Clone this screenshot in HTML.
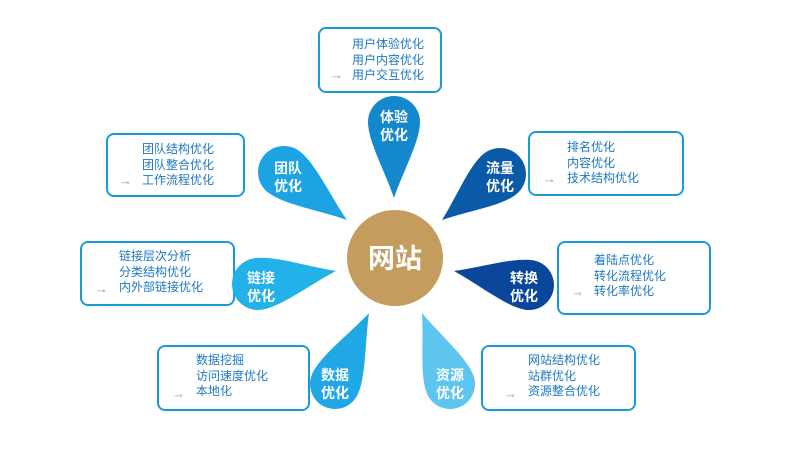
<!DOCTYPE html>
<html><head><meta charset="utf-8"><style>
body{margin:0;width:793px;height:472px;background:#fff;position:relative;overflow:hidden;font-family:"Liberation Sans","Noto Sans CJK SC",sans-serif}
.box{position:absolute;border:2px solid #1c9ad8;border-radius:8px;box-sizing:border-box;background:#fff}
.t{position:absolute;color:#1d78c0;font-size:12px;line-height:15.5px;white-space:nowrap}
.ar{position:absolute;color:#c49a5c;font-size:13px}
.lb{position:absolute;color:#fff;font-weight:bold;font-size:14px;line-height:18px;text-align:center;width:40px}
svg{position:absolute;left:0;top:0}
</style></head><body>
<div class="box" style="left:318px;top:27px;width:124px;height:66px"></div>
<div class="t" style="left:352px;top:37px">用户体验优化<br>用户内容优化<br>用户交互优化</div><div class="ar" style="left:330px;top:67px">→</div>
<div class="box" style="left:106px;top:133px;width:139px;height:64px"></div>
<div class="t" style="left:142px;top:142px">团队结构优化<br>团队整合优化<br>工作流程优化</div><div class="ar" style="left:119px;top:173px">→</div>
<div class="box" style="left:528px;top:131px;width:156px;height:65px"></div>
<div class="t" style="left:567px;top:140px">排名优化<br>内容优化<br>技术结构优化</div><div class="ar" style="left:543px;top:171px">→</div>
<div class="box" style="left:80px;top:241px;width:155px;height:65px"></div>
<div class="t" style="left:119px;top:249px">链接层次分析<br>分类结构优化<br>内外部链接优化</div><div class="ar" style="left:95px;top:281px">→</div>
<div class="box" style="left:557px;top:241px;width:154px;height:74px"></div>
<div class="t" style="left:594px;top:253px">着陆点优化<br>转化流程优化<br>转化率优化</div><div class="ar" style="left:571px;top:284px">→</div>
<div class="box" style="left:157px;top:345px;width:153px;height:66px"></div>
<div class="t" style="left:196px;top:353px">数据挖掘<br>访问速度优化<br>本地化</div><div class="ar" style="left:172px;top:386px">→</div>
<div class="box" style="left:481px;top:345px;width:155px;height:66px"></div>
<div class="t" style="left:528px;top:353px">网站结构优化<br>站群优化<br>资源整合优化</div><div class="ar" style="left:504px;top:386px">→</div>
<svg width="793" height="472" id="s">
<circle cx="395" cy="258" r="48" fill="#c49c5e"/>
<text x="395" y="268" text-anchor="middle" fill="#fff" font-size="27" font-weight="bold" font-family="Liberation Sans,Noto Sans CJK SC,sans-serif">网站</text>
</svg>
<div class="lb" style="left:374px;top:108px">体验<br>优化</div>
<div class="lb" style="left:268px;top:159px">团队<br>优化</div>
<div class="lb" style="left:480px;top:159px">流量<br>优化</div>
<div class="lb" style="left:241px;top:269px">链接<br>优化</div>
<div class="lb" style="left:504px;top:269px">转换<br>优化</div>
<div class="lb" style="left:315px;top:366px">数据<br>优化</div>
<div class="lb" style="left:430px;top:366px">资源<br>优化</div>
<script>
var d=[[394,122,26,394,198,"#1488cc"],[284,172,26,347,220,"#1ca4e2"],[500,174,26,442,220,"#0b5aa8"],[258,284,26,336,271,"#23b1ea"],[529,285,25,454,271,"#0a479a"],[335,384,25,369,313,"#20a8e6"],[450,384,25,422,313,"#5ec5ef"]];
var s=document.getElementById('s'),h='';
d.forEach(function(p){var cx=p[0],cy=p[1],r=p[2],tx=p[3],ty=p[4];var dx=tx-cx,dy=ty-cy,L=Math.hypot(dx,dy),ux=dx/L,uy=dy/L,nx=-uy,ny=ux;
var x1=cx+r*nx,y1=cy+r*ny,x2=cx-r*nx,y2=cy-r*ny,k=0.25*L,o=r*0.35,m=0.35*L;
h+='<path d="M'+tx+' '+ty+' C'+(tx-ux*m+nx*o)+' '+(ty-uy*m+ny*o)+' '+(x1+ux*k)+' '+(y1+uy*k)+' '+x1+' '+y1+' A'+r+' '+r+' 0 0 1 '+x2+' '+y2+' C'+(x2+ux*k)+' '+(y2+uy*k)+' '+(tx-ux*m-nx*o)+' '+(ty-uy*m-ny*o)+' '+tx+' '+ty+' Z" fill="'+p[5]+'"/>';});
s.insertAdjacentHTML('afterbegin',h);
</script>
</body></html>
